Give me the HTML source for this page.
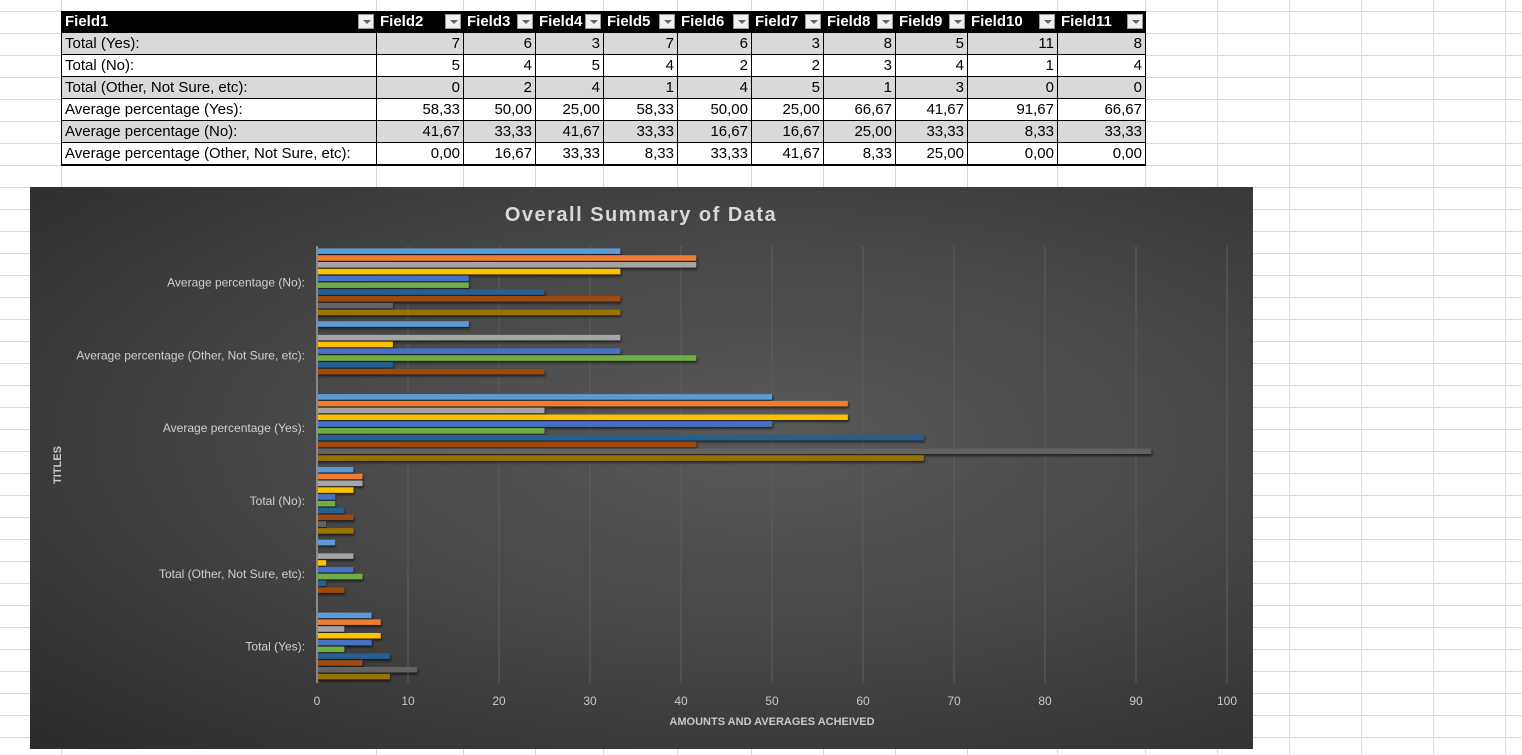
<!DOCTYPE html>
<html><head><meta charset="utf-8">
<style>
html,body{margin:0;padding:0;width:1522px;height:755px;overflow:hidden;background:#fff;font-family:"Liberation Sans",sans-serif}
#grid{position:absolute;left:0;top:0;width:1522px;height:755px}
table{position:absolute;left:61px;top:11px;border-collapse:collapse;font-size:15px;table-layout:fixed}
td{height:21px;padding:0 3px;border-left:1px solid #000;border-right:1px solid #000;border-bottom:1px solid #000;text-align:right;white-space:nowrap;overflow:hidden;line-height:21px;color:#000}
td:first-child{text-align:left}
tr.g td{background:#d9d9d9}
tr.w td{background:#fff}
tr.h td{background:#000;color:#fff;font-weight:bold;text-align:left;position:relative}
tr.last td{border-bottom:2px solid #000}
.dd{position:absolute;right:2px;top:3px;width:16px;height:15px;background:#f0f0f0;border:1px solid #999;box-sizing:border-box}
.dd:after{content:"";position:absolute;left:4px;top:5px;border-left:4px solid transparent;border-right:4px solid transparent;border-top:4px solid #666}
#chart{position:absolute;left:30px;top:187px;width:1223px;height:562px;background:radial-gradient(ellipse at 60% 45%,#5a5a5a 0%,#474747 45%,#2b2b2b 100%)}
</style></head><body>
<svg id="grid"></svg>
<table>
<colgroup><col style="width:315px"><col style="width:87px"><col style="width:72px"><col style="width:68px"><col style="width:74px"><col style="width:74px"><col style="width:72px"><col style="width:72px"><col style="width:72px"><col style="width:90px"><col style="width:88px"></colgroup>
<tr class="h">
<td>Field1<span class="dd"></span></td>
<td>Field2<span class="dd"></span></td>
<td>Field3<span class="dd"></span></td>
<td>Field4<span class="dd"></span></td>
<td>Field5<span class="dd"></span></td>
<td>Field6<span class="dd"></span></td>
<td>Field7<span class="dd"></span></td>
<td>Field8<span class="dd"></span></td>
<td>Field9<span class="dd"></span></td>
<td>Field10<span class="dd"></span></td>
<td>Field11<span class="dd"></span></td>
</tr>
<tr class="g"><td>Total (Yes):</td><td>7</td><td>6</td><td>3</td><td>7</td><td>6</td><td>3</td><td>8</td><td>5</td><td>11</td><td>8</td></tr>
<tr class="w"><td>Total (No):</td><td>5</td><td>4</td><td>5</td><td>4</td><td>2</td><td>2</td><td>3</td><td>4</td><td>1</td><td>4</td></tr>
<tr class="g"><td>Total (Other, Not Sure, etc):</td><td>0</td><td>2</td><td>4</td><td>1</td><td>4</td><td>5</td><td>1</td><td>3</td><td>0</td><td>0</td></tr>
<tr class="w"><td>Average percentage (Yes):</td><td>58,33</td><td>50,00</td><td>25,00</td><td>58,33</td><td>50,00</td><td>25,00</td><td>66,67</td><td>41,67</td><td>91,67</td><td>66,67</td></tr>
<tr class="g"><td>Average percentage (No):</td><td>41,67</td><td>33,33</td><td>41,67</td><td>33,33</td><td>16,67</td><td>16,67</td><td>25,00</td><td>33,33</td><td>8,33</td><td>33,33</td></tr>
<tr class="w last"><td>Average percentage (Other, Not Sure, etc):</td><td>0,00</td><td>16,67</td><td>33,33</td><td>8,33</td><td>33,33</td><td>41,67</td><td>8,33</td><td>25,00</td><td>0,00</td><td>0,00</td></tr>
</table>
<div id="chart">
<svg id="csvg" width="1223" height="562" style="position:absolute;left:0;top:0"></svg>
</div>
<script>
// categories top to bottom
const categories = ["Average percentage (No):","Average percentage (Other, Not Sure, etc):","Average percentage (Yes):","Total (No):","Total (Other, Not Sure, etc):","Total (Yes):"];
// series in visual order (top bar to bottom bar in each group); values per category
const seriesNames = ["Field3","Field2","Field4","Field5","Field6","Field7","Field8","Field9","Field10","Field11"];
const field3 = [33.33,16.67,50,4,2,6];
const field2 = [41.67,0,58.33,5,0,7];
const field4 = [41.67,33.33,25,5,4,3];
const field5 = [33.33,8.33,58.33,4,1,7];
const field6 = [16.67,33.33,50,2,4,6];
const field7 = [16.67,41.67,25,2,5,3];
const field8 = [25,8.33,66.67,3,1,8];
const field9 = [33.33,25,41.67,4,3,5];
const field10 = [8.33,0,91.67,1,0,11];
const field11 = [33.33,0,66.67,4,0,8];
const xTicks = [0,10,20,30,40,50,60,70,80,90,100];

const seriesValues = [field3,field2,field4,field5,field6,field7,field8,field9,field10,field11];
const colors = ["#5b9bd5","#ed7d31","#a5a5a5","#ffc000","#4472c4","#70ad47","#255e91","#9e480e","#636363","#997300"];
const NS="http://www.w3.org/2000/svg";

// spreadsheet grid
(function(){
  const g=document.getElementById('grid');
  const cols=[61,376,463,535,603,677,751,823,895,967,1057,1145,1217,1289,1361,1433,1505];
  cols.forEach(x=>{const l=document.createElementNS(NS,'line');l.setAttribute('x1',x+.5);l.setAttribute('x2',x+.5);l.setAttribute('y1',0);l.setAttribute('y2',755);l.setAttribute('stroke','#dadada');g.appendChild(l);});
  for(let y=11;y<755;y+=22){const l=document.createElementNS(NS,'line');l.setAttribute('x1',0);l.setAttribute('x2',1522);l.setAttribute('y1',y+.5);l.setAttribute('y2',y+.5);l.setAttribute('stroke','#dadada');g.appendChild(l);}
})();

// chart (coords relative to chart at 30,187)
const svg=document.getElementById('csvg');
const X0=287, PXU=9.1, TOP=59, BOT=496;
function xs(v){return X0+v*PXU;}
const band=(BOT-TOP)/categories.length;
function yc(i){return TOP+band*i+band/2;}
const step=6.8, bh=5.5;
function mk(tag,attrs){const e=document.createElementNS(NS,tag);for(const k in attrs)e.setAttribute(k,attrs[k]);svg.appendChild(e);return e;}
const defs=mk('defs',{});
defs.innerHTML='<filter id="sh" x="-5%" y="-50%" width="110%" height="250%"><feDropShadow dx="1" dy="2" stdDeviation="1.2" flood-color="#000" flood-opacity="0.6"/></filter>';

xTicks.forEach(t=>{
  if(t>0){const l=mk('line',{x1:xs(t),x2:xs(t),y1:TOP,y2:BOT,stroke:'#5e5e5e','stroke-width':1});
  
  }
  const tx=mk('text',{x:xs(t),y:518,fill:'#c8c8c8','font-size':12,'text-anchor':'middle'});
  tx.textContent=t;
  
  
});

categories.forEach((c,i)=>{
  const tx=mk('text',{x:X0-12,y:yc(i)+4,fill:'#d0d0d0','font-size':12,'text-anchor':'end'});
  tx.textContent=c;
  
  
  const start=yc(i)-step*seriesValues.length/2;
  seriesValues.forEach((s,j)=>{
    const v=s[i];
    if(v<=0)return;
    const r=mk('rect',{x:X0,y:start+j*step,width:xs(v)-X0,height:bh,fill:colors[j],filter:'url(#sh)'});
    
    
  });
});
const ax=mk('line',{x1:X0,x2:X0,y1:TOP,y2:BOT,stroke:'#8a8a8a','stroke-width':2});



const title=mk('text',{x:611,y:34,fill:'#d9d9d9','font-size':20,'font-weight':'bold','text-anchor':'middle','letter-spacing':'1.5'});
title.textContent='Overall Summary of Data';


const xt=mk('text',{x:742,y:538,fill:'#c8c8c8','font-size':11,'font-weight':'bold','text-anchor':'middle'});
xt.textContent='AMOUNTS AND AVERAGES ACHEIVED';


const yt=mk('text',{x:0,y:0,fill:'#c8c8c8','font-size':11,'font-weight':'bold','text-anchor':'middle',transform:'translate(31,278) rotate(-90)'});
yt.textContent='TITLES';


</script>
</body></html>
